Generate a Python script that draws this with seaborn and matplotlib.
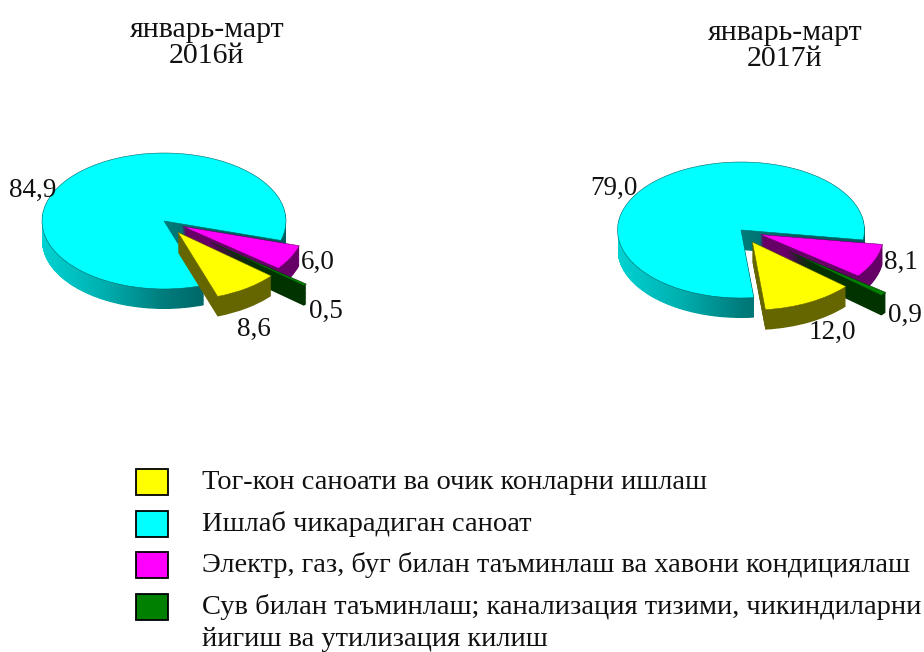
import numpy as np
import matplotlib
matplotlib.use("Agg")
import matplotlib.pyplot as plt
from matplotlib.patches import Rectangle
from matplotlib.path import Path
import seaborn as sns

# data, same order as the legend
legend_labels = [
    "Тог-кон саноати ва очик конларни ишлаш",
    "Ишлаб чикарадиган саноат",
    "Электр, газ, буг билан таъминлаш ва хавони кондициялаш",
    "Сув билан таъминлаш; канализация тизими, чикиндиларни\nйигиш ва утилизация килиш",
]
values_2016 = [8.6, 84.9, 6.0, 0.5]
values_2017 = [12.0, 79.0, 8.1, 0.9]
title_2016 = "январь-март\n2016й"
title_2017 = "январь-март\n2017й"

top_colors = ["#FFFF00", "#00FFFF", "#FF00FF", "#008000"]
side_colors = ["#666600", "#006666", "#660066", "#003300"]
explode = [0.2, 0.0, 0.17, 0.49]
# back to front: cyan, magenta, green, yellow
wedge_z = [7, 1, 3, 5]

W, H = 924, 652
DEPTH = 20
LAYERS = 24

sns.set_theme(style="white")
plt.rcParams["font.family"] = ["Liberation Serif", "DejaVu Serif"]

fig = plt.figure(figsize=(W / 100, H / 100), dpi=100, facecolor="white")


def draw_pie(values, cx, cy, rx, ry, start):
    # axes placed so one data unit is rx by ry pixels
    ax = fig.add_axes([(cx - 1.5 * rx) / W, 1 - (cy + 1.5 * ry) / H, 3 * rx / W, 3 * ry / H])
    cyan_paths = []
    for k in range(LAYERS, -1, -1):
        off = -k / LAYERS * DEPTH / ry
        wedges, _ = ax.pie(values, explode=explode, startangle=start, counterclock=False,
                           center=(0, off), radius=1)
        for i, w in enumerate(wedges):
            if k == 0:
                w.set(facecolor=top_colors[i], edgecolor=side_colors[i], linewidth=0.4,
                      zorder=wedge_z[i] + 1)
            else:
                w.set(facecolor=side_colors[i], edgecolor="none", linewidth=0, zorder=wedge_z[i])
                if i == 1:
                    cyan_paths.append(w.get_path())
                    w.set_visible(False)
    # shaded wall of the big slice
    shade = sns.blend_palette(["#00D2D2", "#00B0B0", "#007C7C", "#005E5E", "#005E5E"], as_cmap=True)
    im = ax.imshow(np.linspace(0, 1, 256)[None, :], extent=(-1, 1, -2, 2), cmap=shade,
                   aspect="auto", zorder=1)
    im.set_clip_path(Path.make_compound_path(*cyan_paths), transform=ax.transData)
    ax.set_aspect("auto")
    ax.set_xlim(-1.5, 1.5)
    ax.set_ylim(-1.5, 1.5)
    ax.set_axis_off()


draw_pie(values_2016, 164, 221, 122, 68, -40)
draw_pie(values_2017, 741, 230, 123.5, 68, -40.8)

# overlay in pixel coordinates for the texts and the legend
over = fig.add_axes([0, 0, 1, 1])
over.set_xlim(0, W)
over.set_ylim(H, 0)
over.set_axis_off()
over.patch.set_alpha(0)


def fmt(v):
    return f"{v:.1f}".replace(".", ",")


over.text(207, 63, title_2016, ha="center", va="baseline", fontsize=21.5, linespacing=1.0, color="#111111")
over.text(785, 66, title_2017, ha="center", va="baseline", fontsize=21.5, linespacing=1.0, color="#111111")

pos_2016 = [(254, 329), (33, 190), (318, 262), (326, 311)]
pos_2017 = [(832, 332), (614, 188), (901, 262), (905, 315)]
for vals, pos in [(values_2016, pos_2016), (values_2017, pos_2017)]:
    for v, (x, y) in zip(vals, pos):
        over.text(x, y, fmt(v), ha="center", va="center", fontsize=19.5, color="#111111")

for i, label in enumerate(legend_labels):
    y = 469 + i * 41.7
    over.add_patch(Rectangle((136, y), 32, 26, facecolor=top_colors[i], edgecolor="black", linewidth=1.3))
    base = y + 20 + 32 * label.count("\n")
    over.text(202, base, label, ha="left", va="baseline", fontsize=20.5,
              linespacing=1.4, color="#111111")

fig.savefig("out.png", dpi=100)
